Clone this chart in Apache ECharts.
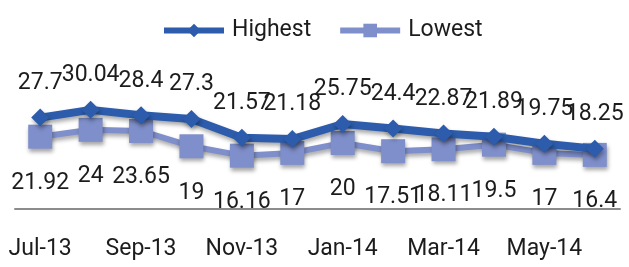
<!DOCTYPE html>
<html>
<head>
<meta charset="utf-8">
<script src="https://cdn.jsdelivr.net/npm/echarts@6/dist/echarts.min.js"></script>
<style>
  html, body { margin: 0; padding: 0; background: #fff; }
  #price-trend { width: 629px; height: 267px; }
</style>
</head>
<body>
<div id="price-trend"></div>
<script>
const months = ['Jul-13', 'Aug-13', 'Sep-13', 'Oct-13', 'Nov-13', 'Dec-13',
  'Jan-14', 'Feb-14', 'Mar-14', 'Apr-14', 'May-14', 'Jun-14'];
const highest = [27.7, 30.04, 28.4, 27.3, 21.57, 21.18, 25.75, 24.4, 22.87, 21.89, 19.75, 18.25];
const lowest = [21.92, 24, 23.65, 19, 16.16, 17, 20, 17.51, 18.11, 19.5, 17, 16.4];

const chartDom = document.getElementById('price-trend');
const myChart = echarts.init(chartDom);
const fontFamily = 'Roboto';
const textColor = '#1c1c1c';
const shadow = {
  shadowColor: 'rgba(0,0,0,0.35)',
  shadowBlur: 4,
  shadowOffsetX: 1,
  shadowOffsetY: 3
};

const option = {
  animation: false,
  textStyle: { fontFamily: fontFamily, color: textColor },
  legend: {
    data: ['Highest', 'Lowest'],
    left: 156,
    top: 14,
    itemWidth: 60,
    itemHeight: 17,
    itemGap: 26,
    lineStyle: { width: 6 },
    textStyle: { fontSize: 23, color: textColor, padding: [0, 0, 0, 3] }
  },
  grid: { left: 15, right: 9, top: 11, bottom: 58 },
  xAxis: {
    type: 'category',
    data: months,
    boundaryGap: true,
    axisLine: { lineStyle: { color: '#8c8c8c', width: 2 } },
    axisTick: { show: false },
    axisLabel: { interval: 1, margin: 29, fontSize: 23, color: textColor }
  },
  yAxis: {
    type: 'value',
    min: 0,
    max: 60,
    show: false,
    splitLine: { show: false }
  },
  series: [
    {
      name: 'Lowest',
      type: 'line',
      data: lowest,
      symbol: 'rect',
      symbolSize: 24,
      z: 2,
      itemStyle: Object.assign({ color: '#7f8fcb' }, shadow),
      lineStyle: Object.assign({ color: '#7f8fcb', width: 6 }, shadow),
      label: { show: true, position: 'bottom', distance: 23, fontSize: 23, color: textColor }
    },
    {
      name: 'Highest',
      type: 'line',
      data: highest,
      symbol: 'diamond',
      symbolSize: 18,
      z: 3,
      itemStyle: Object.assign({ color: '#2c5cab' }, shadow),
      lineStyle: Object.assign({ color: '#2c5cab', width: 8 }, shadow),
      label: { show: true, position: 'top', distance: 14, fontSize: 23, color: textColor }
    }
  ]
};
myChart.setOption(option);
window.addEventListener('resize', function () {
  myChart.resize();
});
</script>
</body>
</html>
